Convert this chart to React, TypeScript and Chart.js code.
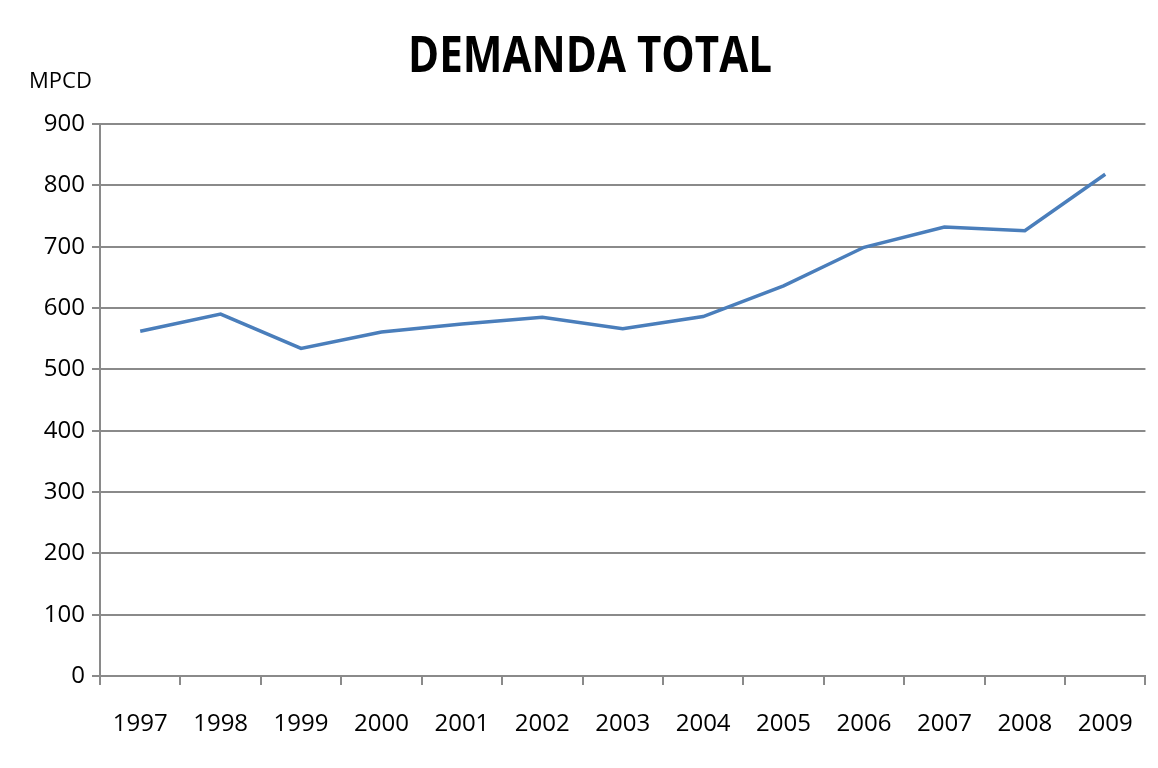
import React, { useEffect, useRef } from "react";
import { Chart, registerables } from "chart.js";

Chart.register(...registerables);

const years = ["1997", "1998", "1999", "2000", "2001", "2002", "2003", "2004", "2005", "2006", "2007", "2008", "2009"];
const demanda = [562, 590, 534, 561, 574, 585, 566, 586, 636, 699, 732, 726, 818];
const titleText = "DEMANDA TOTAL";
const unitText = "MPCD";

const GRID = "#8a8a8a";

const textPlugin = {
  id: "textPlugin",
  afterDraw(chart: any) {
    const ctx = chart.ctx as CanvasRenderingContext2D;
    ctx.save();
    ctx.fillStyle = "#000";
    ctx.textBaseline = "alphabetic";
    ctx.font = "bold 50px 'Open Sans'";
    const w = ctx.measureText(titleText).width;
    const targetW = 364;
    const sx = targetW / w;
    ctx.translate(590, 72);
    ctx.scale(sx, 1);
    ctx.textAlign = "center";
    ctx.fillText(titleText, 0, 0);
    ctx.restore();
    ctx.save();
    ctx.fillStyle = "#000";
    ctx.font = "22px 'Open Sans'";
    ctx.textAlign = "left";
    ctx.textBaseline = "alphabetic";
    ctx.fillText(unitText, 29, 88);
    ctx.restore();
  },
};

export default function App() {
  const ref = useRef<HTMLCanvasElement | null>(null);
  useEffect(() => {
    if (!ref.current) return;
    const chart = new Chart(ref.current, {
      type: "line",
      data: {
        labels: years,
        datasets: [
          {
            data: demanda,
            borderColor: "#4a7ebb",
            borderWidth: 3.5,
            pointRadius: 0,
            tension: 0,
            fill: false,
          },
        ],
      },
      options: {
        animation: false,
        responsive: true,
        maintainAspectRatio: false,
        layout: { padding: { top: 124, right: 8, left: 0, bottom: 0 } },
        plugins: { legend: { display: false }, tooltip: { enabled: false }, title: { display: false } },
        scales: {
          x: {
            offset: true,
            grid: { display: true, drawOnChartArea: false, drawTicks: true, tickLength: 9, color: GRID, lineWidth: 2, offset: true },
            border: { display: true, color: GRID, width: 2 },
            ticks: { color: "#000", font: { family: "'Open Sans'", size: 24 }, padding: 25, maxRotation: 0, autoSkip: false },
            afterFit: (s: any) => { s.height = 92; },
          },
          y: {
            min: 0,
            max: 900,
            grid: { color: GRID, lineWidth: 2, tickLength: 8, drawTicks: true },
            border: { display: true, color: GRID, width: 2 },
            ticks: { stepSize: 100, color: "#000", font: { family: "'Open Sans'", size: 24 }, padding: 7 },
            afterFit: (s: any) => { s.width = 100; },
          },
        },
      },
      plugins: [textPlugin],
    });
    return () => chart.destroy();
  }, []);
  return (
    <div style={{ position: "fixed", left: 0, top: 0, width: 1158, height: 768, background: "#fff" }}>
      <canvas ref={ref} />
    </div>
  );
}
